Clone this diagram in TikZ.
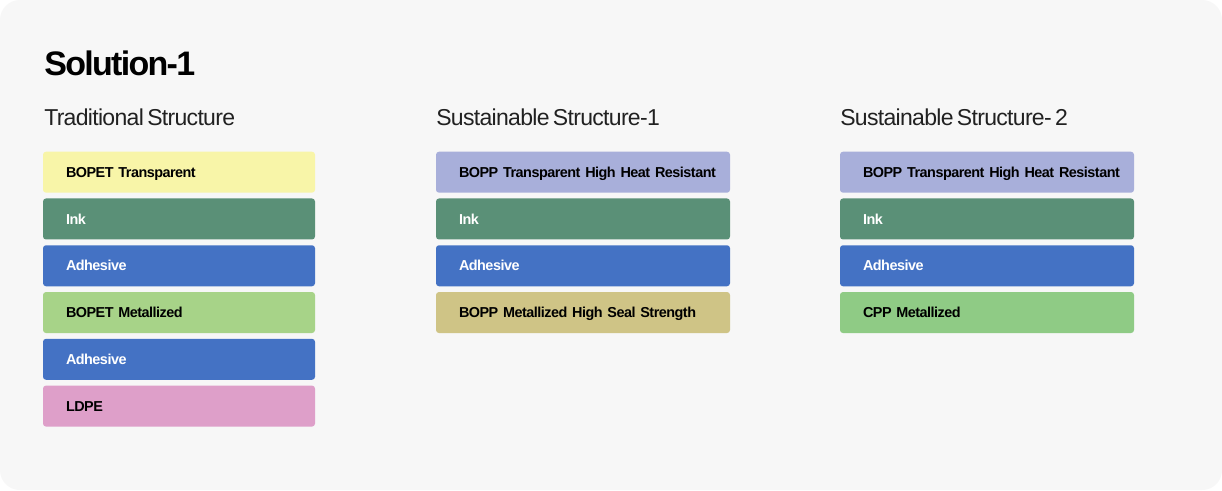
\documentclass[tikz,border=0pt]{standalone}
\usepackage{fontspec}
\setmainfont{Liberation Sans}
\newfontfamily\titlefont[LetterSpace=-5]{Liberation Sans Bold}
\newfontfamily\headfont[LetterSpace=-3,WordSpace=0.6]{Liberation Sans}
\newfontfamily\filmfont[LetterSpace=-3.5,WordSpace=0.5]{Liberation Sans Bold}
\usetikzlibrary{shapes.geometric}
\definecolor{panel}{HTML}{F7F7F7}
\definecolor{petclear}{HTML}{F8F5A8}
\definecolor{inkgreen}{HTML}{5A9077}
\definecolor{adhblue}{HTML}{4472C4}
\definecolor{petmet}{HTML}{A7D388}
\definecolor{ldpepink}{HTML}{DE9FC9}
\definecolor{oppclear}{HTML}{A8AFDA}
\definecolor{oppmet}{HTML}{CFC486}
\definecolor{cppmet}{HTML}{8FCB85}
\tikzstyle{film} = [rectangle, rounded corners=2.25pt, inner xsep=17.25pt, inner ysep=0pt, text width=169.5pt, minimum height=30.75pt, text height=7.7pt, text depth=0pt, align=left, execute at begin node={\hbox\bgroup}, execute at end node={\egroup}, font=\filmfont\fontsize{10.8pt}{12pt}\selectfont]
\tikzstyle{widefilm} = [film, text width=186pt]
\tikzstyle{colhead} = [anchor=base west, inner sep=0pt, text=black!87, font=\headfont\fontsize{17.25pt}{20pt}\selectfont]

\begin{document}
\begin{tikzpicture}[x=0.75pt, y=-0.75pt, node distance=35.08pt]
        \useasboundingbox (0,0) rectangle (1222,490);
        \fill[white] (0,0) rectangle (1222,490);
        \fill[panel, rounded corners=15pt] (0,0) rectangle (1222,490);

        \node (title) [anchor=base west, inner sep=0pt, font=\titlefont\fontsize{25.5pt}{30pt}\selectfont] at (44,75) {Solution-1};

        % traditional
        \node (headT) [colhead] at (44,125) {Traditional Structure};
        \node (T1) [film, fill=petclear] at (179,172.2) {BOPET Transparent};
        \node (T2) [film, fill=inkgreen, text=white, below of = T1] {Ink};
        \node (T3) [film, fill=adhblue, text=white, below of = T2] {Adhesive};
        \node (T4) [film, fill=petmet, below of = T3] {BOPET Metallized};
        \node (T5) [film, fill=adhblue, text=white, below of = T4] {Adhesive};
        \node (T6) [film, fill=ldpepink, below of = T5] {LDPE};

        % sustainable 1
        \node (headA) [colhead] at (436,125) {Sustainable Structure-1};
        \node (A1) [widefilm, fill=oppclear] at (583,172.2) {BOPP Transparent High Heat Resistant};
        \node (A2) [widefilm, fill=inkgreen, text=white, below of = A1] {Ink};
        \node (A3) [widefilm, fill=adhblue, text=white, below of = A2] {Adhesive};
        \node (A4) [widefilm, fill=oppmet, below of = A3] {BOPP Metallized High Seal Strength};

        % sustainable 2
        \node (headB) [colhead] at (840,125) {Sustainable Structure- 2};
        \node (B1) [widefilm, fill=oppclear] at (987,172.2) {BOPP Transparent High Heat Resistant};
        \node (B2) [widefilm, fill=inkgreen, text=white, below of = B1] {Ink};
        \node (B3) [widefilm, fill=adhblue, text=white, below of = B2] {Adhesive};
        \node (B4) [widefilm, fill=cppmet, below of = B3] {CPP Metallized};
    \end{tikzpicture}
\end{document}
